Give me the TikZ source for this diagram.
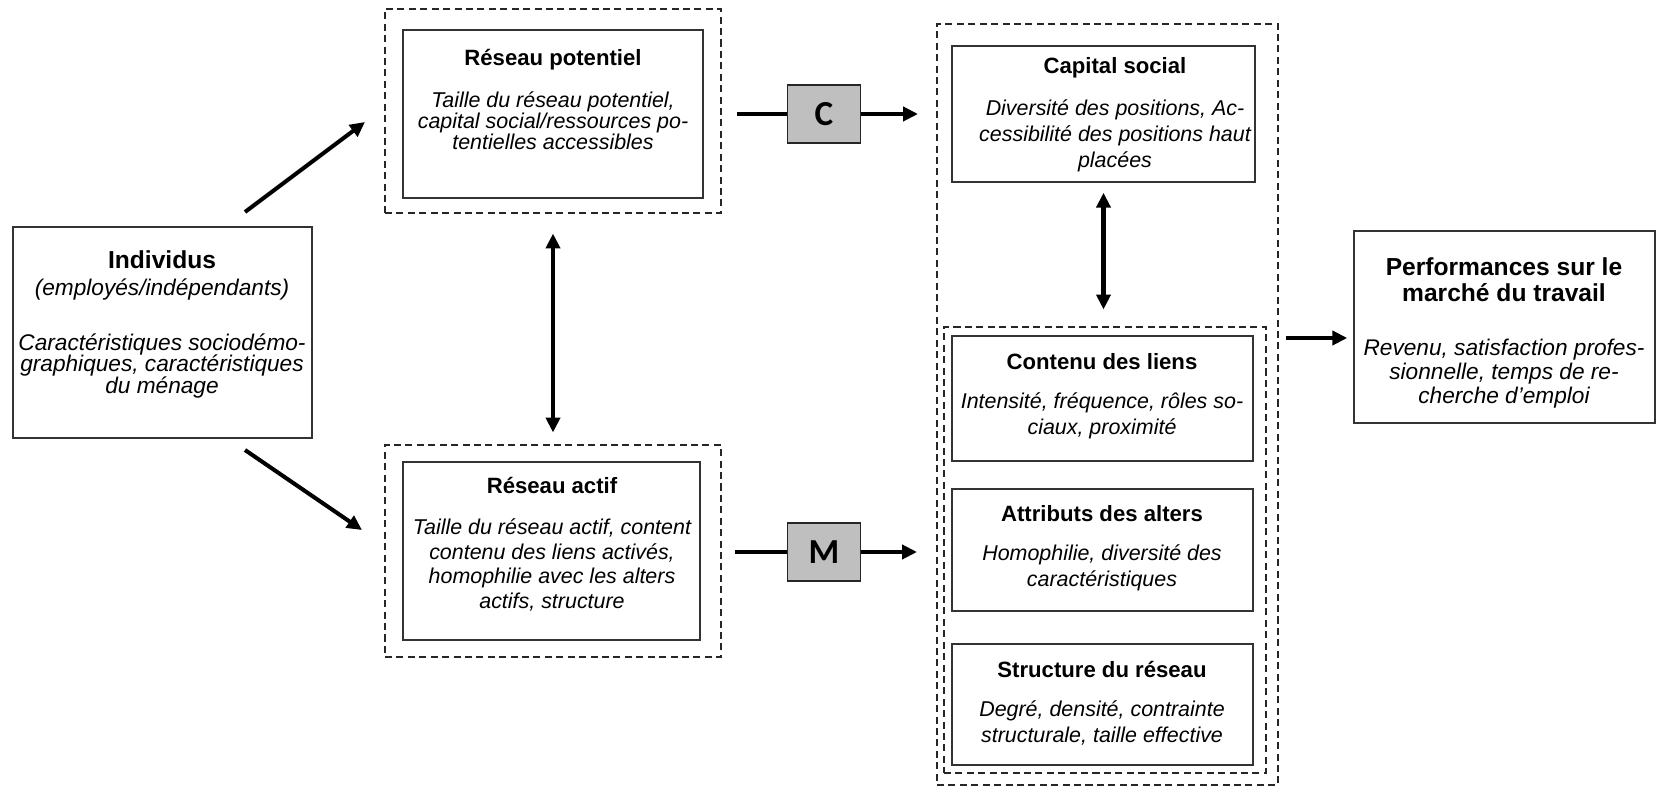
\documentclass[tikz,border=0pt]{standalone}
\usepackage{fontspec}
\setmainfont{Liberation Sans}
\newfontfamily\carlito{Carlito}
\usetikzlibrary{positioning,fit,arrows.meta}

\tikzset{
  boite/.style={draw=black!80, line width=0.85pt, inner sep=0pt},
  cadre/.style={draw=black!85, line width=0.6pt, dash pattern=on 4pt off 2.5pt, inner sep=0pt},
  titre/.style={font=\bfseries\fontsize{12.6}{14}\selectfont, align=center, inner sep=0pt},
  grandtitre/.style={font=\bfseries\fontsize{14}{#1}\selectfont, align=center, inner sep=0pt},
  grandtitre/.default=16pt,
  texte/.style={font=\itshape\fontsize{12.2}{#1}\selectfont, align=center, inner sep=0pt},
  texte/.default=14.5pt,
  grandtexte/.style={font=\itshape\fontsize{12.9}{#1}\selectfont, align=center, inner sep=0pt},
  grandtexte/.default=13.6pt,
  lettre/.style={draw=black!85, fill=black!25, line width=0.85pt, inner sep=0pt,
    minimum width=1.46cm, minimum height=1.16cm, font=\carlito\bfseries\fontsize{20}{22}\selectfont},
  trait/.style={line width=2.3pt},
  fleche/.style={line width=2.3pt, -{Triangle[length=8.5pt,width=8pt]}},
  dfleche/.style={line width=2.3pt, {Triangle[length=8.5pt,width=8pt]}-{Triangle[length=8.5pt,width=8pt]}}
}

\begin{document}
\begin{tikzpicture}[x=0.02cm, y=-0.02cm]
\useasboundingbox (0,0) rectangle (1660,786);

% individus
\node[boite, fit={(13,227) (312,438)}] (indiv) {};
\node[grandtitre] (indivt) at (162,260) {Individus};
\node[grandtexte] (indivs) at (162,290) {(employés/indépendants)};
\node[grandtexte=12.2pt] (indivd) at (162,366) {Caractéristiques sociodémo-\\graphiques, caractéristiques\\du ménage};

% reseau potentiel
\node[cadre, fit={(385,9) (721,213)}] (potcad) {};
\node[boite, fit={(403,30) (703,198)}] (pot) {};
\node[titre] (pott) at (553,60) {Réseau potentiel};
\node[texte=11.9pt] (potd) at (553,121) {Taille du réseau potentiel,\\capital social/ressources po-\\tentielles accessibles};

% reseau actif
\node[cadre, fit={(385,445) (721,657)}] (actcad) {};
\node[boite, fit={(403,462) (700,640)}] (act) {};
\node[titre] (actt) at (552,485) {Réseau actif};
\node[texte=13.9pt] (actd) at (552,565) {Taille du réseau actif, content\\contenu des liens activés,\\homophilie avec les alters\\actifs, structure};

% C et M
\node[lettre] (cbox) at (824,114) {C};
\node[lettre] (mbox) at (824,552) {M};

% bloc de droite
\node[cadre, fit={(937,24) (1278,785)}] (droitecad) {};
\node[boite, fit={(952,46) (1255,182)}] (cap) {};
\node[titre] (capt) at (1115,68) {Capital social};
\node[texte=14.7pt] (capd) at (1115,136) {Diversité des positions, Ac-\\cessibilité des positions haut\\placées};

\node[cadre, fit={(944,327) (1266,773)}] (liencad) {};
\node[boite, fit={(952,336) (1253,461)}] (cont) {};
\node[titre] (contt) at (1102,362) {Contenu des liens};
\node[texte=14.7pt] (contd) at (1102,416) {Intensité, fréquence, rôles so-\\ciaux, proximité};
\node[boite, fit={(952,489) (1253,611)}] (attr) {};
\node[titre] (attrt) at (1102,514) {Attributs des alters};
\node[texte=14.7pt] (attrd) at (1102,568) {Homophilie, diversité des\\caractéristiques};
\node[boite, fit={(952,644) (1253,765)}] (struc) {};
\node[titre] (struct) at (1102,669) {Structure du réseau};
\node[texte=14.7pt] (strucd) at (1102,723) {Degré, densité, contrainte\\structurale, taille effective};

% performances
\node[boite, fit={(1354,231) (1655,423)}] (perf) {};
\node[grandtitre=14.7pt] (perft) at (1504,280) {Performances sur le\\marché du travail};
\node[grandtexte] (perfd) at (1504,374) {Revenu, satisfaction profes-\\sionnelle, temps de re-\\cherche d’emploi};

% fleches
\coordinate (i1) at (245,212);
\coordinate (i2) at (365,122);
\coordinate (i3) at (245,450);
\coordinate (i4) at (362,530);
\draw[fleche] (i1) -- (i2);
\draw[fleche] (i3) -- (i4);
\draw[dfleche, shorten <=0.4cm, shorten >=0.24cm] (potcad.south) -- (actcad.north);

\coordinate (cin) at (737,114);
\coordinate (cout) at (918,114);
\draw[trait] (cin) -- (cbox);
\draw[fleche] (cbox) -- (cout);
\coordinate (min) at (735,552);
\coordinate (mout) at (917,552);
\draw[trait] (min) -- (mbox);
\draw[fleche] (mbox) -- (mout);

\draw[dfleche, shorten <=0.2cm, shorten >=0.34cm] (cap.south) -- (cap.south |- liencad.north);

\coordinate (p1) at (1286,338);
\draw[fleche, shorten >=0.12cm] (p1) -- (p1 -| perf.west);
\end{tikzpicture}
\end{document}
